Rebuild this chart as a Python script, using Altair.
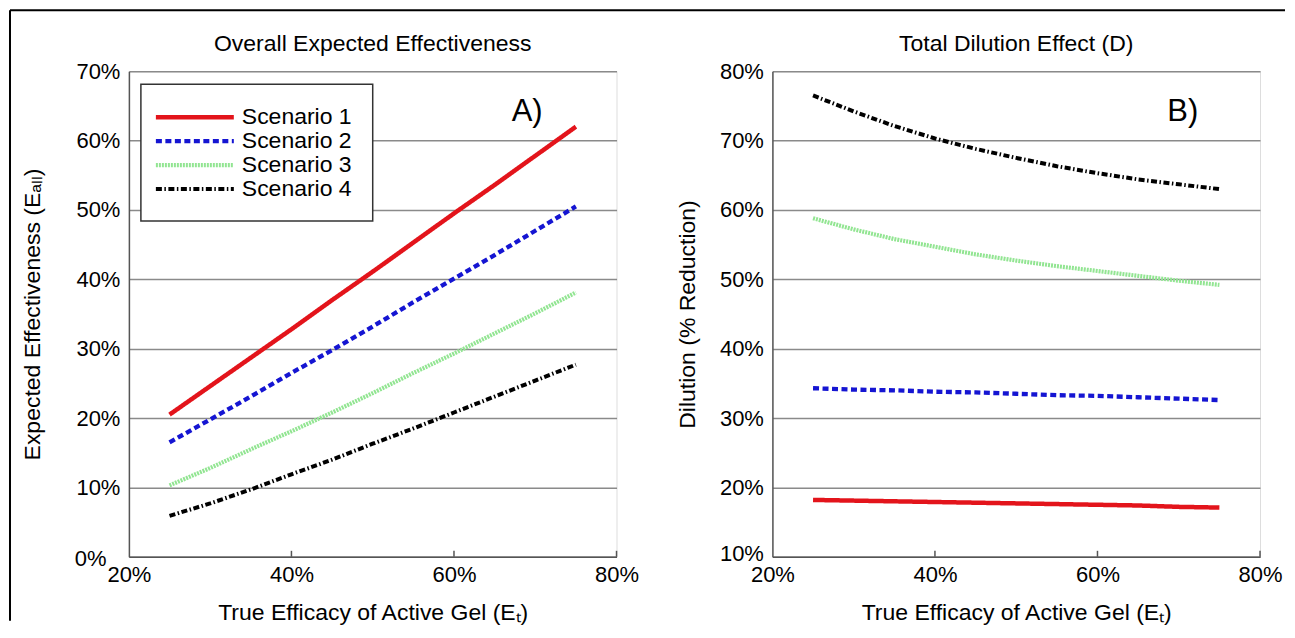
import altair as alt
import pandas as pd

# ---------------- data ----------------
et = [25, 30, 35, 40, 45, 50, 55, 60, 65, 70, 75]
scenarios = ["Scenario 1", "Scenario 2", "Scenario 3", "Scenario 4"]

# Panel A: overall expected effectiveness (%)
eff_s1 = [20.5, 24.6, 28.7, 32.8, 37.0, 41.1, 45.3, 49.5, 53.6, 57.8, 62.0]
eff_s2 = [16.5, 19.8, 23.1, 26.5, 29.8, 33.2, 36.7, 40.1, 43.5, 47.0, 50.5]
eff_s3 = [10.3, 12.8, 15.5, 18.1, 20.8, 23.6, 26.5, 29.3, 32.2, 35.1, 38.1]
eff_s4 = [5.9, 7.7, 9.7, 11.9, 14.0, 16.3, 18.5, 20.8, 23.1, 25.4, 27.7]

# Panel B: total dilution effect (%)
dil_s1 = [18.2, 18.1, 18.0, 17.9, 17.8, 17.7, 17.6, 17.5, 17.4, 17.2, 17.1]
dil_s2 = [34.3, 34.1, 34.0, 33.8, 33.7, 33.5, 33.3, 33.2, 33.0, 32.8, 32.6]
dil_s3 = [58.8, 57.2, 55.8, 54.7, 53.6, 52.7, 51.9, 51.2, 50.5, 49.8, 49.2]
dil_s4 = [76.5, 74.2, 72.1, 70.3, 68.8, 67.5, 66.3, 65.3, 64.4, 63.7, 63.0]

x_ticks = [20, 40, 60, 80]

colors = ["#e3141b", "#1515d2", "#92e592", "#000000"]
dashes = [[1, 0], [6, 3.5], [2, 1], [6, 2.5, 1.5, 2.5]]
widths = [4.5, 4, 4, 4]


def long(series):
    rows = []
    for name, vals in zip(scenarios, series):
        for x, v in zip(et, vals):
            rows.append({"et": x, "v": v, "s": name})
    return pd.DataFrame(rows)


df_a = long([eff_s1, eff_s2, eff_s3, eff_s4])
df_b = long([dil_s1, dil_s2, dil_s3, dil_s4])

H = 486
W = 488
FONT = "Liberation Sans"
AX = "#555555"

color_scale = alt.Scale(domain=scenarios, range=colors)
dash_scale = alt.Scale(domain=scenarios, range=dashes)
width_scale = alt.Scale(domain=scenarios, range=widths)


def panel(df, ydom, yvals, title, tag, tagx, tagy, ytitle, ytitlex, bottom_pad, bottom_off,
          with_legend):
    xscale = alt.Scale(domain=[20, 80], nice=False, zero=False)
    yscale = alt.Scale(domain=ydom, nice=False, zero=False)
    xaxis = alt.Axis(
        values=x_ticks, labelExpr="datum.value + '%'", grid=False, ticks=False,
        tickSize=0, domainColor=AX, domainWidth=1.5, labelFontSize=22,
        labelPadding=8, labelColor="black", labelFont=FONT, labelFlush=False,
        title="True Efficacy of Active Gel (E\u209c)", titleFontSize=23,
        titleFont=FONT, titleFontWeight="normal", titleColor="black",
        titleY=63, titleX=W / 2, titleBaseline="alphabetic", titleAlign="center",
    )
    low = ydom[0]
    yenc = alt.Y(
        "v:Q",
        scale=yscale,
        axis=alt.Axis(
            values=yvals, labelExpr="datum.value + '%'", grid=True, gridColor="#8a8a8a",
            gridWidth=1.5, ticks=False, tickSize=0, domainColor=AX, domainWidth=1.5,
            labelFontSize=22, labelColor="black", labelFont=FONT, labelFlush=False,
            labelPadding={"condition": {"test": f"datum.value == {low}", "value": bottom_pad}, "value": 9},
            labelOffset={"condition": {"test": f"datum.value == {low}", "value": bottom_off}, "value": 0},
            title=ytitle, titleFontSize=23, titleFont=FONT, titleFontWeight="normal",
            titleColor="black", titleX=ytitlex, titleY=H / 2, titleAngle=-90,
            titleBaseline="alphabetic", titleAlign="center",
        ),
    )
    lines = alt.Chart(df).mark_line(strokeCap="butt").encode(
        x=alt.X("et:Q", scale=xscale, axis=xaxis),
        y=yenc,
        color=alt.Color("s:N", scale=color_scale, legend=None),
        strokeDash=alt.StrokeDash("s:N", scale=dash_scale, legend=None),
        strokeWidth=alt.StrokeWidth("s:N", scale=width_scale, legend=None),
        detail="s:N",
    )
    ticks = alt.Chart(pd.DataFrame({"et": x_ticks[1:]})).mark_rule(color=AX, strokeWidth=1.5).encode(
        x=alt.X("et:Q", scale=xscale, axis=xaxis), y=alt.value(H), y2=alt.value(H - 6)
    )
    tagc = alt.Chart(pd.DataFrame({"et": [tagx], "ty": [tagy], "t": [tag]})).mark_text(
        fontSize=31, font=FONT, color="black", align="center", baseline="middle"
    ).encode(x=alt.X("et:Q", scale=xscale, axis=xaxis),
             y=alt.Y("ty:Q", scale=yscale, axis=None), text="t:N")
    titlec = alt.Chart(pd.DataFrame({"t": [title]})).mark_text(
        fontSize=23, font=FONT, color="black", align="center", baseline="alphabetic"
    ).encode(x=alt.value(W / 2), y=alt.value(-20), text="t:N")
    layers = [ticks, lines, tagc, titlec]
    if with_legend:
        one = alt.Data(values=[{"a": 1}])
        b1 = alt.Chart(one).mark_rule(color="black", strokeWidth=2).encode(
            x=alt.value(-119), y=alt.value(-61), y2=alt.value(H + 64))
        b2 = alt.Chart(one).mark_rule(color="black", strokeWidth=2).encode(
            x=alt.value(-119), x2=alt.value(1157), y=alt.value(-61))
        legdf = pd.DataFrame({"s": scenarios})
        ly = alt.Y("s:N", scale=alt.Scale(type="point", domain=scenarios, range=[34, 130]), axis=None)
        box = alt.Chart(one).mark_rect(fill="white", stroke="#333333", strokeWidth=1.5).encode(
            x=alt.value(12), x2=alt.value(244), y=alt.value(13), y2=alt.value(150))
        lsym = alt.Chart(legdf).mark_rule(strokeCap="butt").encode(
            x=alt.value(27), x2=alt.value(105), y=ly,
            color=alt.Color("s:N", scale=color_scale, legend=None),
            strokeDash=alt.StrokeDash("s:N", scale=dash_scale, legend=None),
            strokeWidth=alt.StrokeWidth("s:N", scale=width_scale, legend=None),
        )
        ltxt = alt.Chart(legdf).mark_text(
            fontSize=23, font=FONT, color="black", align="left", baseline="middle"
        ).encode(x=alt.value(113), y=ly, text="s:N")
        layers = [b1, b2] + layers + [box, lsym, ltxt]
    return alt.layer(*layers).resolve_scale(y="independent").properties(width=W, height=H)


left = panel(df_a, [0, 70], [0, 10, 20, 30, 40, 50, 60, 70], "Overall Expected Effectiveness",
             "A)", 69.0, 64.1, "Expected Effectiveness (E\u2090\u2097\u2097)", -89, 23, 2, True)
right = panel(df_b, [10, 80], [10, 20, 30, 40, 50, 60, 70, 80], "Total Dilution Effect (D)",
              "B)", 70.5, 74.1, "Dilution (% Reduction)", -78, 9, -3, False)

chart = alt.hconcat(left, right, spacing=156, bounds="flush").properties(
    padding=0
).configure_view(stroke=None).configure(background="white")

chart.save("out.html", embed_options={"renderer": "svg", "actions": False})
